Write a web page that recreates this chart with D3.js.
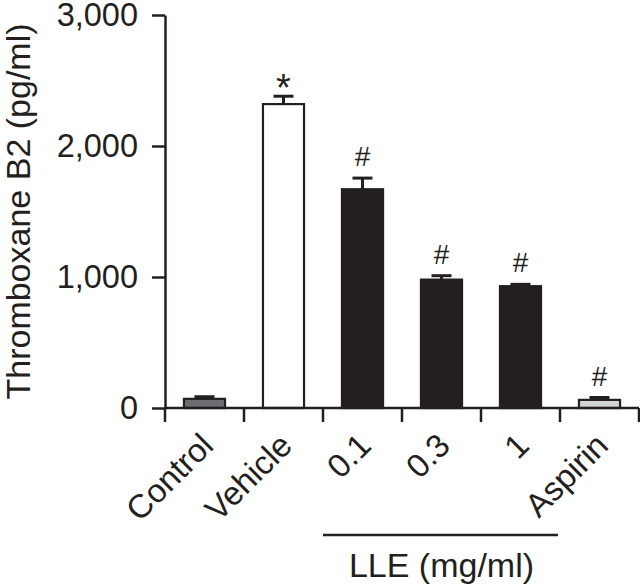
<!DOCTYPE html>
<html>
<head>
<meta charset="utf-8">
<script src="https://cdn.jsdelivr.net/npm/d3@7"></script>
<style>
  body { margin: 0; background: #fff; }
  svg { display: block; font-family: "Liberation Sans", Arial, sans-serif; }
</style>
</head>
<body>
<svg id="chart" width="640" height="587"></svg>
<script>
const categories = ['Control', 'Vehicle', '0.1', '0.3', '1', 'Aspirin'];
const values = [70, 2320, 1670, 980, 930, 62];
const errors = [16, 60, 85, 30, 14, 18];
const marks = ['', '*', '#', '#', '#', '#'];
const yTicks = [0, 1000, 2000, 3000];
const groupCats = ['0.1', '0.3', '1'];
const groupLabel = 'LLE (mg/ml)';
const yLabel = 'Thromboxane B2 (pg/ml)';

const margin = { top: 15, left: 165, right: 1, bottom: 179 };
const width = 640;
const height = 587;
const baseY = height - margin.bottom;

const svg = d3.select('#chart');

const x = d3
  .scaleBand()
  .domain(categories)
  .range([margin.left, width - margin.right])
  .paddingInner(0.48)
  .paddingOuter(0.24);

const y = d3.scaleLinear().domain([0, 3000]).range([baseY, margin.top]);

const fill = d3
  .scaleOrdinal()
  .domain(categories)
  .range(['#6d6e71', '#ffffff', '#231f20', '#231f20', '#231f20', '#d1d3d4']);

const step = x.step();
const edge = (c) => x(c) - step * x.paddingOuter();

// y axis
const yAxis = d3
  .axisLeft(y)
  .tickValues(yTicks)
  .tickFormat(d3.format(','))
  .tickSize(13)
  .tickSizeOuter(0)
  .tickPadding(14);

const gy = svg
  .append('g')
  .attr('transform', `translate(${margin.left},0)`)
  .call(yAxis);
gy.selectAll('path, line').attr('stroke', '#231f20').attr('stroke-width', 2.5);
gy.selectAll('text')
  .attr('fill', '#231f20')
  .style('font-size', '32.5px')
  .style('font-family', '"Liberation Sans", Arial, sans-serif');

// bars
svg
  .selectAll('.bar')
  .data(categories)
  .enter()
  .append('rect')
  .attr('class', 'bar')
  .attr('x', (d) => x(d))
  .attr('y', (d, i) => y(values[i]))
  .attr('width', x.bandwidth())
  .attr('height', (d, i) => baseY - y(values[i]))
  .style('fill', (d) => fill(d))
  .style('stroke', '#231f20')
  .style('stroke-width', 2.2);

// error bars
const err = svg
  .selectAll('.err')
  .data(categories)
  .enter()
  .append('g')
  .attr('class', 'err')
  .style('stroke', '#231f20')
  .style('stroke-width', 3);

err
  .append('line')
  .attr('x1', (d) => x(d) + x.bandwidth() / 2)
  .attr('x2', (d) => x(d) + x.bandwidth() / 2)
  .attr('y1', (d, i) => y(values[i]))
  .attr('y2', (d, i) => y(values[i] + errors[i]));

err
  .append('line')
  .attr('x1', (d) => x(d) + x.bandwidth() / 2 - 10)
  .attr('x2', (d) => x(d) + x.bandwidth() / 2 + 10)
  .attr('y1', (d, i) => y(values[i] + errors[i]))
  .attr('y2', (d, i) => y(values[i] + errors[i]));

// significance marks
svg
  .selectAll('.mark')
  .data(categories)
  .enter()
  .append('text')
  .attr('class', 'mark')
  .attr('x', (d) => x(d) + x.bandwidth() / 2)
  .attr('y', (d, i) => y(values[i] + errors[i]) + (marks[i] === '*' ? 5 : -12))
  .attr('text-anchor', 'middle')
  .style('font-size', (d, i) => (marks[i] === '*' ? '38px' : '28px'))
  .style('fill', '#231f20')
  .text((d, i) => marks[i]);

// x axis: baseline and ticks at band boundaries
svg
  .append('line')
  .attr('x1', margin.left)
  .attr('x2', width - margin.right)
  .attr('y1', baseY)
  .attr('y2', baseY)
  .style('stroke', '#231f20')
  .style('stroke-width', 2.5);

const bounds = categories.map(edge).concat([edge(categories[categories.length - 1]) + step]);
svg
  .selectAll('.xtick')
  .data(bounds)
  .enter()
  .append('line')
  .attr('class', 'xtick')
  .attr('x1', (d) => d)
  .attr('x2', (d) => d)
  .attr('y1', baseY)
  .attr('y2', baseY + 14)
  .style('stroke', '#231f20')
  .style('stroke-width', 2.5);

svg
  .selectAll('.xlabel')
  .data(categories)
  .enter()
  .append('text')
  .attr('class', 'xlabel')
  .attr('transform', (d) => `translate(${x(d) + x.bandwidth() / 2 - 6},${baseY + 23}) rotate(-45)`)
  .attr('dy', '0.71em')
  .attr('text-anchor', 'end')
  .style('font-size', '33px')
  .style('fill', '#231f20')
  .text((d) => d);

// group bracket
const gx0 = edge(groupCats[0]);
const gx1 = edge(groupCats[groupCats.length - 1]) + step;
svg
  .append('line')
  .attr('x1', gx0)
  .attr('x2', gx1 - 2)
  .attr('y1', 535)
  .attr('y2', 535)
  .style('stroke', '#231f20')
  .style('stroke-width', 2.5);

svg
  .append('text')
  .attr('x', (gx0 + gx1) / 2)
  .attr('y', 577)
  .attr('text-anchor', 'middle')
  .style('font-size', '34px')
  .style('fill', '#231f20')
  .text(groupLabel);

// y label
svg
  .append('text')
  .attr('transform', `translate(30,${(margin.top + baseY) / 2}) rotate(-90)`)
  .attr('text-anchor', 'middle')
  .style('font-size', '34px')
  .style('fill', '#231f20')
  .text(yLabel);
</script>
</body>
</html>
